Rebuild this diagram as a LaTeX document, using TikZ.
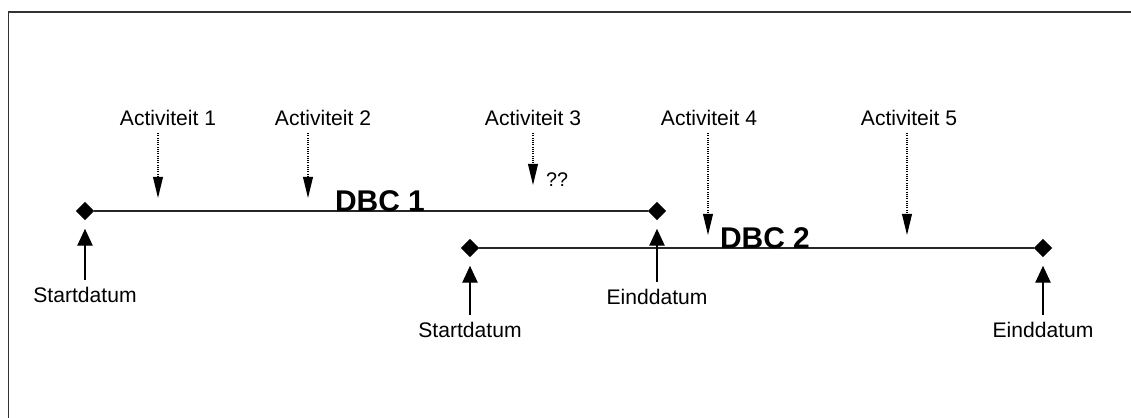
\documentclass[tikz,border=0pt]{standalone}
\usepackage{fontspec}
\setmainfont{Liberation Sans}
\usetikzlibrary{arrows.meta,shapes.geometric}

\tikzset{
  datum/.style={diamond, fill=black, inner sep=0pt, minimum size=13pt},
  balk/.style={line width=1.2pt, black!85},
  act/.style={font=\fontsize{15}{18}\selectfont, inner sep=5pt},
  dlabel/.style={font=\fontsize{15}{18}\selectfont, inner sep=5pt},
  dbc/.style={font=\fontsize{21.3}{25}\selectfont\bfseries, inner sep=0pt},
  meldpijl/.style={line width=0.9pt, dash pattern=on 0.8pt off 0.8pt, -{Triangle[length=15pt,width=7pt]}},
  datumpijl/.style={line width=0.8pt, -{Triangle[length=12pt,width=11pt]}, shorten >=6pt}
}

\begin{document}
\begin{tikzpicture}[x=0.025cm, y=-0.025cm]
\useasboundingbox (0,0) rectangle (1131,417);
\draw[line width=1.4pt, black!80] (8.5,440) -- (8.5,12) -- (1150,12);

\node[datum] (s1) at (85,211) {};
\node[datum] (e1) at (657,211) {};
\node[datum] (s2) at (470,248) {};
\node[datum] (e2) at (1043,248) {};
\draw[balk] (s1) -- (e1);
\draw[balk] (s2) -- (e2);

\node[dbc] (dbc1) at (380,201) {DBC 1};
\node[dbc] (dbc2) at (765,238) {DBC 2};

\foreach \n/\lx/\px/\ty in {1/168/158/198, 2/323/308/198, 3/533/533/185, 4/709/708/235, 5/909/907/235} {
  \node[act] (act\n) at (\lx,118) {Activiteit \n};
  \coordinate (hit\n) at (\px,\ty);
  \draw[meldpijl] (hit\n |- act\n.south) -- (hit\n);
}
\node[font=\fontsize{14}{16}\selectfont, inner sep=0pt] (vraag) at (557,180) {??};

\node[dlabel] (sl1) at (85,295) {Startdatum};
\node[dlabel] (el1) at (657,297) {Einddatum};
\node[dlabel] (sl2) at (470,330) {Startdatum};
\node[dlabel] (el2) at (1043,330) {Einddatum};
\draw[datumpijl] (sl1) -- (s1);
\draw[datumpijl] (el1) -- (e1);
\draw[datumpijl] (sl2) -- (s2);
\draw[datumpijl] (el2) -- (e2);

\end{tikzpicture}
\end{document}
